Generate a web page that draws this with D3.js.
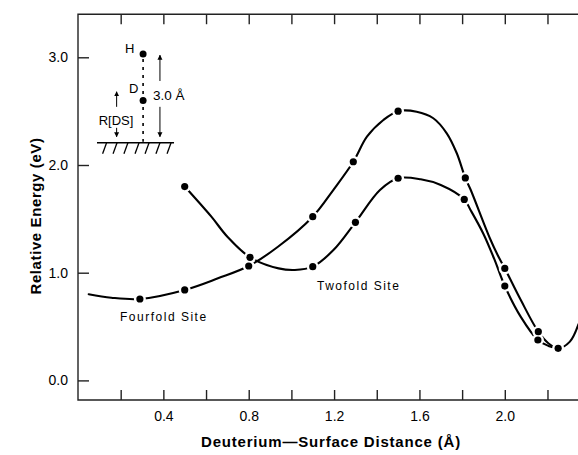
<!DOCTYPE html>
<html><head><meta charset="utf-8">
<script src="https://cdn.jsdelivr.net/npm/d3@7/dist/d3.min.js"></script>
<style>
body{margin:0;background:#fff}
svg{display:block}
text{font-family:"Liberation Sans",Arial,Helvetica,sans-serif;fill:#000}
</style>
</head><body>
<svg id="chart" width="578" height="455"></svg>
<script>
// ---- data ----
const xTickValues = [0.2,0.4,0.6,0.8,1.0,1.2,1.4,1.6,1.8,2.0,2.2,2.4];
const xTickLabels = ["0.4","0.8","1.2","1.6","2.0"];
const yTickValues = [0,1,2,3];
const yTickLabels = ["0.0","1.0","2.0","3.0"];

// Fourfold site curve (traced) and computed points (dots)
const fourfoldX = [0.05,0.156,0.29,0.50,0.656,0.80,0.937,1.10,1.197,1.29,1.354,1.431,1.50,1.587,1.665,1.728,1.775,1.815,1.84,1.93,1.97,2.0,2.075,2.157,2.204,2.25,2.305,2.345];
const fourfoldY = [0.80,0.768,0.756,0.84,0.948,1.062,1.241,1.52,1.77,2.03,2.263,2.418,2.50,2.495,2.434,2.294,2.109,1.88,1.77,1.32,1.15,1.04,0.746,0.452,0.345,0.298,0.36,0.52];
const fourfoldDotX = [0.29,0.50,0.80,1.10,1.29,1.50,1.815,2.0,2.157,2.25];
const fourfoldDotY = [0.756,0.84,1.062,1.52,2.03,2.50,1.88,1.04,0.452,0.298];

// Twofold site curve (traced) and computed points (dots)
const twofoldX = [0.50,0.625,0.70,0.806,0.94,1.016,1.10,1.197,1.30,1.415,1.50,1.606,1.70,1.81,1.84,1.90,1.95,2.0,2.075,2.155,2.205,2.25];
const twofoldY = [1.80,1.52,1.334,1.143,1.04,1.025,1.056,1.21,1.468,1.768,1.877,1.867,1.814,1.68,1.58,1.36,1.13,0.876,0.59,0.375,0.32,0.298];
const twofoldDotX = [0.50,0.806,1.10,1.30,1.50,1.81,2.0,2.155];
const twofoldDotY = [1.80,1.143,1.056,1.468,1.877,1.68,0.876,0.375];

const seriesLabels = ["Fourfold Site","Twofold Site"];
const labelX = [0.197,1.12];
const labelY = [0.55,0.84];

// ---- scales ----
const svg = d3.select("#chart");
const x = d3.scaleLinear().domain([0,2.4]).range([78,78+2.4*213.4]);
const y = d3.scaleLinear().domain([0,3]).range([380.4,57.3]);
const yBottom = -0.182, yTopVal = 3.40;
const pLeft = x(0), pRight = x(2.4), pTop = y(yTopVal), pBottom = y(yBottom);

svg.append("defs").append("clipPath").attr("id","plotclip")
  .append("rect").attr("x",pLeft).attr("y",pTop).attr("width",pRight-pLeft).attr("height",pBottom-pTop);

// ---- axes ----
const fmtX = d => { const s = d3.format(".1f")(d); return xTickLabels.includes(s) ? s : ""; };
const gx = svg.append("g").attr("transform",`translate(0,${pBottom})`)
  .call(d3.axisBottom(x).tickValues(xTickValues).tickSizeInner(-10).tickSizeOuter(0).tickPadding(11).tickFormat(fmtX));
const gt = svg.append("g").attr("transform",`translate(0,${pTop})`)
  .call(d3.axisTop(x).tickValues(xTickValues).tickSizeInner(-10).tickSizeOuter(0).tickFormat(""));
const gy = svg.append("g").attr("transform",`translate(${pLeft},0)`)
  .call(d3.axisLeft(y).tickValues(yTickValues).tickSizeInner(-11).tickSizeOuter(0).tickPadding(10)
    .tickFormat((d,i) => yTickLabels[i]));
[gx,gt,gy].forEach(g => {
  g.select(".domain").remove();
  g.selectAll(".tick line").attr("stroke","#222").attr("stroke-width",1.4);
  g.selectAll(".tick text").attr("font-size",14).attr("fill","#000")
    .style("font-family",'"Liberation Sans",Arial,Helvetica,sans-serif');
});

// frame (left, bottom, top)
svg.append("path")
  .attr("d",`M${pRight},${pTop}H${pLeft}V${pBottom}H${pRight}`)
  .attr("fill","none").attr("stroke","#222").attr("stroke-width",1.4);

// axis titles
svg.append("text").attr("x",331).attr("y",447).attr("text-anchor","middle")
  .attr("font-size",15).attr("font-weight","bold").attr("letter-spacing",0.8)
  .text("Deuterium\u2014Surface Distance (\u00C5)");
svg.append("text").attr("transform",`translate(41,${216}) rotate(-90)`).attr("text-anchor","middle")
  .attr("font-size",15).attr("font-weight","bold").attr("letter-spacing",0.6)
  .text("Relative Energy (eV)");

// ---- curves ----
const plot = svg.append("g").attr("clip-path","url(#plotclip)");
const line = d3.line().x(d=>x(d[0])).y(d=>y(d[1])).curve(d3.curveCatmullRom.alpha(0.5));
const ff = fourfoldX.map((v,i)=>[v,fourfoldY[i]]);
const tf = twofoldX.map((v,i)=>[v,twofoldY[i]]);
[ff,tf].forEach(pts => plot.append("path").attr("d",line(pts))
  .attr("fill","none").attr("stroke","#000").attr("stroke-width",2.1).attr("stroke-linecap","round"));

const dots = fourfoldDotX.map((v,i)=>[v,fourfoldDotY[i]])
  .concat(twofoldDotX.map((v,i)=>[v,twofoldDotY[i]]));
// white halos make the line breaks around each computed point
plot.selectAll("circle.halo").data(dots).join("circle").attr("class","halo")
  .attr("cx",d=>x(d[0])).attr("cy",d=>y(d[1])).attr("r",6).attr("fill","#fff");
plot.selectAll("circle.dot").data(dots).join("circle").attr("class","dot")
  .attr("cx",d=>x(d[0])).attr("cy",d=>y(d[1])).attr("r",3.6).attr("fill","#000");

// series labels
svg.selectAll("text.slabel").data(seriesLabels).join("text").attr("class","slabel")
  .attr("x",(d,i)=>x(labelX[i])).attr("y",(d,i)=>y(labelY[i]))
  .attr("font-size",12).attr("letter-spacing",1.5).attr("fill","#000").text(d=>d);

// ---- inset diagram (positions in data units) ----
const defs = svg.select("defs");
defs.append("marker").attr("id","ah").attr("viewBox","0 0 10 10").attr("refX",9).attr("refY",5)
  .attr("markerWidth",5).attr("markerHeight",7).attr("markerUnits","userSpaceOnUse").attr("orient","auto")
  .append("path").attr("d","M0,0L10,5L0,10Z").attr("fill","#000");

const inset = svg.append("g");
const surfY = 2.207, surfX0 = 0.089, surfX1 = 0.45;
const molX = 0.305, hY = 3.03, dY = 2.60;
// surface line + hatching
inset.append("line").attr("x1",x(surfX0)).attr("x2",x(surfX1)).attr("y1",y(surfY)).attr("y2",y(surfY))
  .attr("stroke","#000").attr("stroke-width",1.6);
const hatchX = [0.134,0.183,0.234,0.286,0.333,0.384,0.436];
inset.selectAll("line.hatch").data(hatchX).join("line").attr("class","hatch")
  .attr("x1",d=>x(d)).attr("y1",y(surfY)).attr("x2",d=>x(d)-4).attr("y2",y(surfY)+11)
  .attr("stroke","#000").attr("stroke-width",1.3);
// dotted axis of the molecule
inset.append("line").attr("x1",x(molX)).attr("x2",x(molX)).attr("y1",y(hY)+5).attr("y2",y(surfY)-1)
  .attr("stroke","#000").attr("stroke-width",1.6).attr("stroke-dasharray","3,5");
inset.append("circle").attr("cx",x(molX)).attr("cy",y(hY)).attr("r",3.5).attr("fill","#000");
inset.append("circle").attr("cx",x(molX)).attr("cy",y(dY)).attr("r",3.5).attr("fill","#000");
inset.append("text").attr("x",x(molX)-18).attr("y",y(hY)-1).attr("font-size",13).attr("fill","#000").text("H");
inset.append("text").attr("x",x(molX)-14).attr("y",y(dY)-7).attr("font-size",13).attr("fill","#000").text("D");
// 3.0 Å arrows
const arX = 0.384;
inset.append("line").attr("x1",x(arX)).attr("x2",x(arX)).attr("y1",y(2.78)).attr("y2",y(3.02))
  .attr("stroke","#000").attr("stroke-width",1).attr("marker-end","url(#ah)");
inset.append("line").attr("x1",x(arX)).attr("x2",x(arX)).attr("y1",y(2.54)).attr("y2",y(2.262))
  .attr("stroke","#000").attr("stroke-width",1).attr("marker-end","url(#ah)");
inset.append("text").attr("x",x(arX)-7).attr("y",y(2.60)).attr("font-size",13.5).attr("fill","#000").text("3.0 \u00C5");
// R[DS] arrows
const rX = 0.181;
inset.append("line").attr("x1",x(rX)).attr("x2",x(rX)).attr("y1",y(2.54)).attr("y2",y(2.68))
  .attr("stroke","#000").attr("stroke-width",1).attr("marker-end","url(#ah)");
inset.append("line").attr("x1",x(rX)).attr("x2",x(rX)).attr("y1",y(2.345)).attr("y2",y(2.262))
  .attr("stroke","#000").attr("stroke-width",1).attr("marker-end","url(#ah)");
inset.append("text").attr("x",x(rX)-18).attr("y",y(2.37)).attr("font-size",13).attr("fill","#000").text("R[DS]");
</script>
</body></html>
